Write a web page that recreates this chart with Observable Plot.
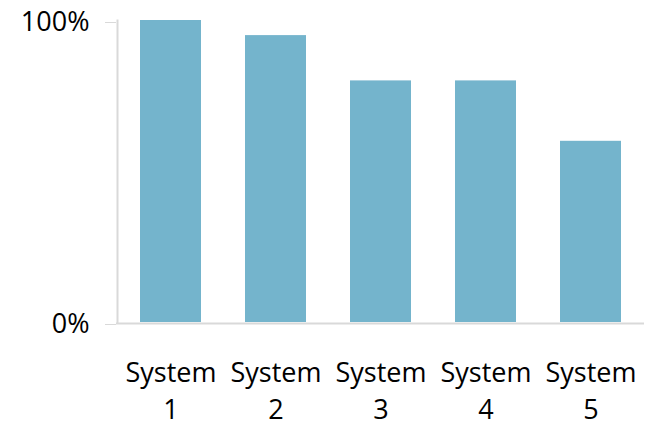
<!DOCTYPE html>
<html>
<head>
<meta charset="utf-8">
<script src="https://cdn.jsdelivr.net/npm/d3@7"></script>
<script src="https://cdn.jsdelivr.net/npm/@observablehq/plot@0.6"></script>
<style>
  html, body { margin: 0; padding: 0; background: #fff; }
</style>
</head>
<body>
<div id="chart"></div>
<script>
const categories = ["System 1", "System 2", "System 3", "System 4", "System 5"];
const values = [1.00, 0.95, 0.80, 0.80, 0.60];
const yTicks = [0, 1];

const data = categories.map((c, i) => ({category: c, value: values[i]}));

const chart = Plot.plot({
  width: 648,
  height: 422,
  marginTop: 20,
  marginBottom: 100,
  marginLeft: 116,
  marginRight: 4,
  style: {fontFamily: "'Open Sans', sans-serif", background: "#fff", color: "#000"},
  x: {domain: categories, paddingInner: 0.42, paddingOuter: 0.21, label: null},
  y: {domain: [0, 1], label: null},
  marks: [
    Plot.barY(data, {x: "category", y: "value", fill: "#74b4cc"}),
    Plot.frame({anchor: "left", stroke: "#d9d9d9", strokeWidth: 2, dx: 1}),
    Plot.ruleY([0], {stroke: "#d9d9d9", strokeWidth: 2, dy: 1}),
    Plot.axisY({ticks: yTicks, tickFormat: d3.format(".0%"), tickSize: 11, tickPadding: 16,
      stroke: "#d9d9d9", fill: "#000", fontSize: 27, label: null, dy: 2}),
    Plot.axisX({tickSize: 0, tickPadding: 33, tickFormat: d => d.replace(" ", "\n"),
      fill: "#000", fontSize: 27, lineHeight: 1.37, label: null})
  ]
});
document.getElementById("chart").appendChild(chart);
</script>
</body>
</html>
